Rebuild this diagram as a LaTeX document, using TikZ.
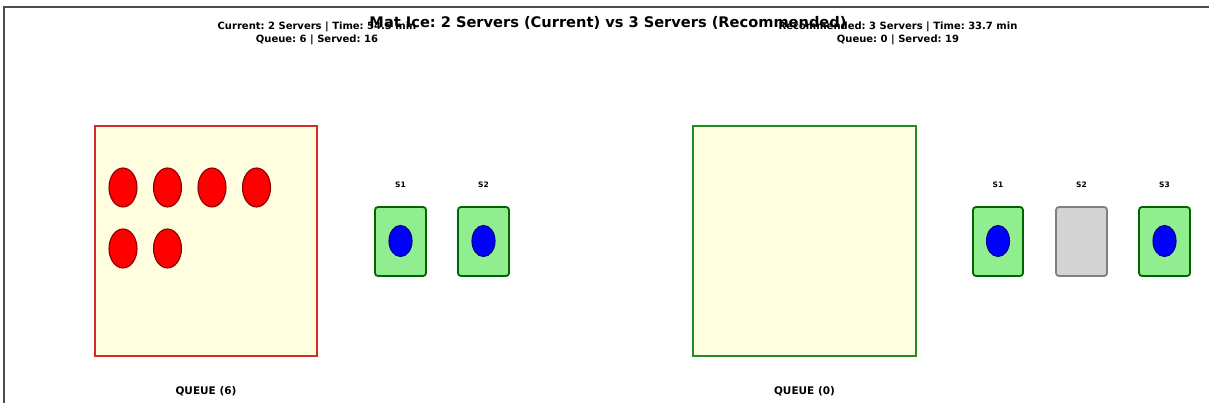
\documentclass[tikz,border=0pt]{standalone}
\usepackage{fontspec}
\setmainfont{DejaVu Sans}
\usetikzlibrary{shapes.geometric}
\definecolor{qfill}{HTML}{FFFFE0}
\definecolor{qred}{HTML}{D62A2A}
\definecolor{qgreen}{HTML}{228B22}
\definecolor{srvfill}{HTML}{90EE90}
\definecolor{srvedge}{HTML}{006400}
\definecolor{idlefill}{HTML}{D3D3D3}
\definecolor{idleedge}{HTML}{808080}
\definecolor{custred}{HTML}{FF0000}
\definecolor{custedge}{HTML}{8B0000}
\definecolor{busyblue}{HTML}{0000FF}
\definecolor{busyedge}{HTML}{00008B}
\frenchspacing
\tikzset{
  queuebox/.style={draw, line width=2pt, fill=qfill, inner sep=0pt, outer sep=0pt},
  waiting/.style={ellipse, draw=custedge, fill=custred, line width=1.1pt,
    minimum width=28pt, minimum height=39pt, inner sep=0pt},
  busy/.style={rounded corners=3pt, draw=srvedge, fill=srvfill, line width=1.8pt},
  idle/.style={rounded corners=3pt, draw=idleedge, fill=idlefill, line width=1.8pt},
  inservice/.style={ellipse, draw=busyedge, fill=busyblue, line width=1.1pt,
    minimum width=23pt, minimum height=31pt, inner sep=0pt},
  srvlabel/.style={font=\fontsize{7.5}{8}\selectfont\bfseries},
  sublabel/.style={font=\fontsize{10}{13}\selectfont\bfseries, align=center},
  qlabel/.style={font=\fontsize{10.5}{12}\selectfont\bfseries},
}
\begin{document}
\begin{tikzpicture}[x=1pt, y=-1pt]
\useasboundingbox (0,0) rectangle (1209,403);
% axes frame
\draw[line width=1.3pt, black!70] (4,403) -- (4,7) -- (1209,7);

% ---------- current configuration ----------
\filldraw[queuebox, draw=qred] (95,126) rectangle (317,356);
\node[waiting] (c1) at (123,187.5) {};
\node[waiting] (c2) at (167.5,187.5) {};
\node[waiting] (c3) at (212,187.5) {};
\node[waiting] (c4) at (256.5,187.5) {};
\node[waiting] (c5) at (123,248.5) {};
\node[waiting] (c6) at (167.5,248.5) {};
\node[qlabel] (qcurlab) at (206,391) {QUEUE (6)};

\draw[busy] (375,207) rectangle (426,276);
\node[inservice] (a1) at (400.5,241) {};
\node[srvlabel] (a1lab) at (400.5,185) {S1};
\draw[busy] (458,207) rectangle (509,276);
\node[inservice] (a2) at (483.5,241) {};
\node[srvlabel] (a2lab) at (483.5,185) {S2};

\node[sublabel] (subcur) at (317,33.5) {Current: 2 Servers | Time: 54.5 min\\Queue: 6 | Served: 16};

% ---------- recommended configuration ----------
\filldraw[queuebox, draw=qgreen] (693,126) rectangle (916,356);
\node[qlabel] (qreclab) at (804.5,391) {QUEUE (0)};

\draw[busy] (973,207) rectangle (1023,276);
\node[inservice] (b1) at (998,241) {};
\node[srvlabel] (b1lab) at (998,185) {S1};
\draw[idle] (1056,207) rectangle (1107,276);
\node[srvlabel] (b2lab) at (1081.5,185) {S2};
\draw[busy] (1139,207) rectangle (1190,276);
\node[inservice] (b3) at (1164.5,241) {};
\node[srvlabel] (b3lab) at (1164.5,185) {S3};

\node[sublabel] (subrec) at (898,33.5) {Recommended: 3 Servers | Time: 33.7 min\\Queue: 0 | Served: 19};

% ---------- title ----------
\node[font=\fontsize{14.6}{16}\selectfont\bfseries] (title) at (608,22.5)
  {Mat Ice: 2 Servers (Current) vs 3 Servers (Recommended)};
\end{tikzpicture}
\end{document}
